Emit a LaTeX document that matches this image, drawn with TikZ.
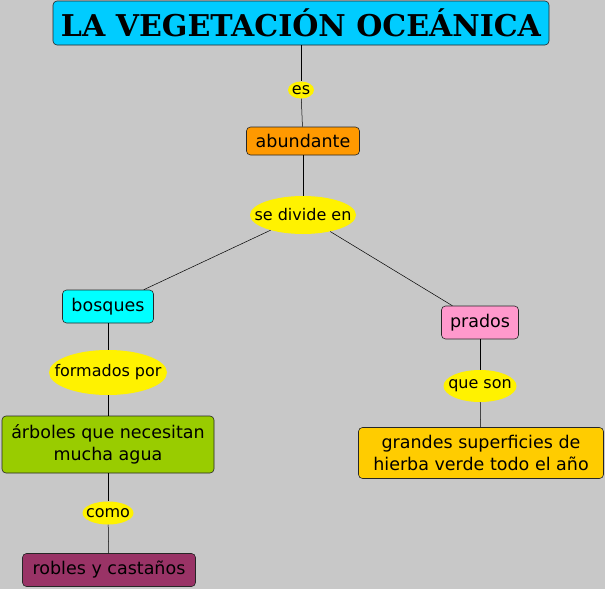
\documentclass[tikz,border=0pt]{standalone}
\usepackage{fontspec}
\setmainfont{DejaVu Sans}
\newfontfamily\titlefont{DejaVu Serif}
\usetikzlibrary{shapes.geometric}
\definecolor{bggray}{RGB}{200,200,200}
\definecolor{titlecyan}{RGB}{0,204,255}
\definecolor{boxcyan}{RGB}{0,255,255}
\definecolor{boxorange}{RGB}{255,153,0}
\definecolor{boxpink}{RGB}{255,153,204}
\definecolor{boxgreen}{RGB}{153,204,0}
\definecolor{boxgold}{RGB}{255,204,0}
\definecolor{boxplum}{RGB}{153,51,102}
\begin{document}
\begin{tikzpicture}[x=1pt,y=-1pt,
    concept/.style={draw=black!85, line width=0.6pt, rounded corners=4pt, inner sep=0pt,
      align=center, font=\fontsize{17.5}{22}\selectfont},
    linkword/.style={ellipse, fill=yellow, inner sep=0pt,
      label={[font=\fontsize{16}{18}\selectfont, inner sep=0pt]center:#1}},
    link/.style={draw=black, line width=0.5pt}]
  % background and frame
  \fill[bggray] (0,0) rectangle (605,589);
  \useasboundingbox (0,0) rectangle (605,589);
  % Top: title and the main branch
  \node[concept, fill=titlecyan, minimum width=496pt, minimum height=44pt,
    font=\titlefont\bfseries\fontsize{30}{32}\selectfont] (title) at (301,23) {LA VEGETACIÓN OCEÁNICA};
  \node[linkword=es, minimum width=26pt, minimum height=17pt] (es) at (301,90) {};
  \node[concept, fill=boxorange, minimum width=113pt, minimum height=28pt] (abundante) at (303,141) {abundante};
  \node[linkword=se divide en, minimum width=106pt, minimum height=38pt] (divide) at (303,215) {};
  % Left: bosques
  \node[concept, fill=boxcyan, minimum width=91pt, minimum height=33pt] (bosques) at (108,306.5) {bosques};
  \node[linkword=formados por, minimum width=118pt, minimum height=45pt] (formados) at (108,372.5) {};
  \node[concept, fill=boxgreen, minimum width=212pt, minimum height=57pt] (arboles) at (108,444.5) {árboles que necesitan\\mucha agua};
  \node[linkword=como, minimum width=51pt, minimum height=23pt] (como) at (108,513) {};
  \node[concept, fill=boxplum, minimum width=173pt, minimum height=33pt] (robles) at (109,570) {robles y castaños};
  % Right: prados
  \node[concept, fill=boxpink, minimum width=77pt, minimum height=33pt] (prados) at (480,322.5) {prados};
  \node[linkword=que son, minimum width=73pt, minimum height=32pt] (queson) at (480,386) {};
  \node[concept, fill=boxgold, minimum width=245pt, minimum height=51pt] (grandes) at (481,453) {grandes superficies de\\hierba verde todo el año};
  % connectors
  \draw[link] (title) -- (es);
  \draw[link] (es) -- (abundante);
  \draw[link] (abundante) -- (divide);
  \draw[link] (divide) -- (bosques);
  \draw[link] (divide) -- (prados);
  \draw[link] (bosques) -- (formados);
  \draw[link] (formados) -- (arboles);
  \draw[link] (arboles) -- (como);
  \draw[link] (como) -- (robles);
  \draw[link] (prados) -- (queson);
  \draw[link] (queson) -- (grandes);
\end{tikzpicture}
\end{document}
